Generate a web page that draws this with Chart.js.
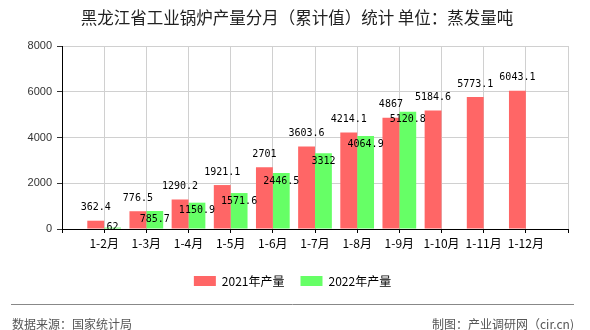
<!DOCTYPE html>
<html>
<head>
<meta charset="utf-8">
<script src="https://cdn.jsdelivr.net/npm/chart.js@4"></script>
<style>
  html, body { margin: 0; padding: 0; background: #fff; }
  #wrap { position: relative; width: 590px; height: 330px; }
</style>
</head>
<body>
<div id="wrap"><canvas id="chart"></canvas></div>
<script>
// data
const months = ['1-2月', '1-3月', '1-4月', '1-5月', '1-6月', '1-7月', '1-8月', '1-9月', '1-10月', '1-11月', '1-12月'];
const output2021 = [362.4, 776.5, 1290.2, 1921.1, 2701, 3603.6, 4214.1, 4867, 5184.6, 5773.1, 6043.1];
const output2022 = [62, 785.7, 1150.9, 1571.6, 2446.5, 3312, 4064.9, 5120.8, null, null, null];
const yTicks = [0, 2000, 4000, 6000, 8000];

const titleText = '黑龙江省工业锅炉产量分月（累计值）统计 单位：蒸发量吨';
const sourceText = '数据来源：国家统计局';
const makerText = '制图：产业调研网（cir.cn)';

// the axis has an empty slot on each side of the months
const labels = [''].concat(months, ['']);
const pad = (arr) => [null].concat(arr, [null]);

const cjk = '"Noto Sans CJK SC", "Noto Sans", sans-serif';

// value labels: above the red bars, just inside the top of the green ones
const valueLabels = {
  id: 'valueLabels',
  afterDatasetsDraw(chart) {
    const ctx = chart.ctx;
    const bottom = chart.chartArea.bottom;
    ctx.save();
    ctx.font = '10px "DejaVu Sans Mono", monospace';
    ctx.fillStyle = '#000';
    ctx.textAlign = 'center';
    ctx.textBaseline = 'middle';
    chart.data.datasets.forEach((ds, i) => {
      const meta = chart.getDatasetMeta(i);
      meta.data.forEach((bar, j) => {
        const v = ds.data[j];
        if (v === null || v === undefined) return;
        let y;
        if (i === 0) {
          y = bar.y - 13;
        } else {
          y = Math.min(bar.y + 8, bottom - 2);
        }
        ctx.fillText(String(v), bar.x, y);
      });
    });
    ctx.restore();
  }
};

// title is centred on the whole picture, footer sits under a rule
const captions = {
  id: 'captions',
  afterDraw(chart) {
    const ctx = chart.ctx;
    ctx.save();
    ctx.font = '16.5px ' + cjk;
    ctx.fillStyle = '#222';
    ctx.textAlign = 'center';
    ctx.textBaseline = 'middle';
    ctx.fillText(titleText, 297, 18);

    ctx.strokeStyle = '#888';
    ctx.lineWidth = 1;
    ctx.beginPath();
    ctx.moveTo(11, 304.5);
    ctx.lineTo(574, 304.5);
    ctx.stroke();
    ctx.font = '12px ' + cjk;
    ctx.fillStyle = '#555';
    ctx.textAlign = 'left';
    ctx.fillText(sourceText, 12, 324);
    ctx.textAlign = 'right';
    ctx.fillText(makerText, 574, 324);
    ctx.restore();
  }
};

new Chart(document.getElementById('chart'), {
  type: 'bar',
  data: {
    labels: labels,
    datasets: [
      {
        label: '2021年产量',
        data: pad(output2021),
        backgroundColor: 'rgb(255,102,102)',
        borderWidth: 0
      },
      {
        label: '2022年产量',
        data: pad(output2022),
        backgroundColor: 'rgb(102,255,102)',
        borderWidth: 0
      }
    ]
  },
  options: {
    responsive: true,
    maintainAspectRatio: false,
    animation: false,
    categoryPercentage: 0.8,
    barPercentage: 1,
    layout: { padding: { left: 0, right: 5, top: 46, bottom: 33 } },
    plugins: {
      title: { display: false },
      legend: {
        position: 'bottom',
        labels: {
          boxWidth: 22,
          boxHeight: 10,
          padding: 16,
          color: '#000',
          font: { size: 12, family: cjk }
        }
      },
      tooltip: { enabled: false }
    },
    scales: {
      x: {
        offset: false,
        grid: { color: '#d0d0d0', tickColor: '#000', tickLength: 4, offset: false },
        border: { color: '#000' },
        ticks: {
          autoSkip: false,
          maxRotation: 0,
          padding: 3,
          color: '#000',
          font: { size: 12, family: cjk }
        },
        afterFit(scale) {
          scale.height = 30;
          // keeps the plot's right edge at 568 while the legend stays centred
          scale.paddingRight = 22;
        }
      },
      y: {
        min: 0,
        max: 8000,
        afterBuildTicks(scale) { scale.ticks = yTicks.map(v => ({ value: v })); },
        grid: { color: '#d0d0d0', tickColor: '#333', tickLength: 5 },
        border: { color: '#000' },
        ticks: {
          padding: 5,
          color: '#333',
          font: { size: 11, family: '"Liberation Sans", Arial, sans-serif' },
          callback: (v) => String(v)
        },
        afterFit(scale) { scale.width = 62; }
      }
    }
  },
  plugins: [valueLabels, captions]
});
</script>
</body>
</html>
